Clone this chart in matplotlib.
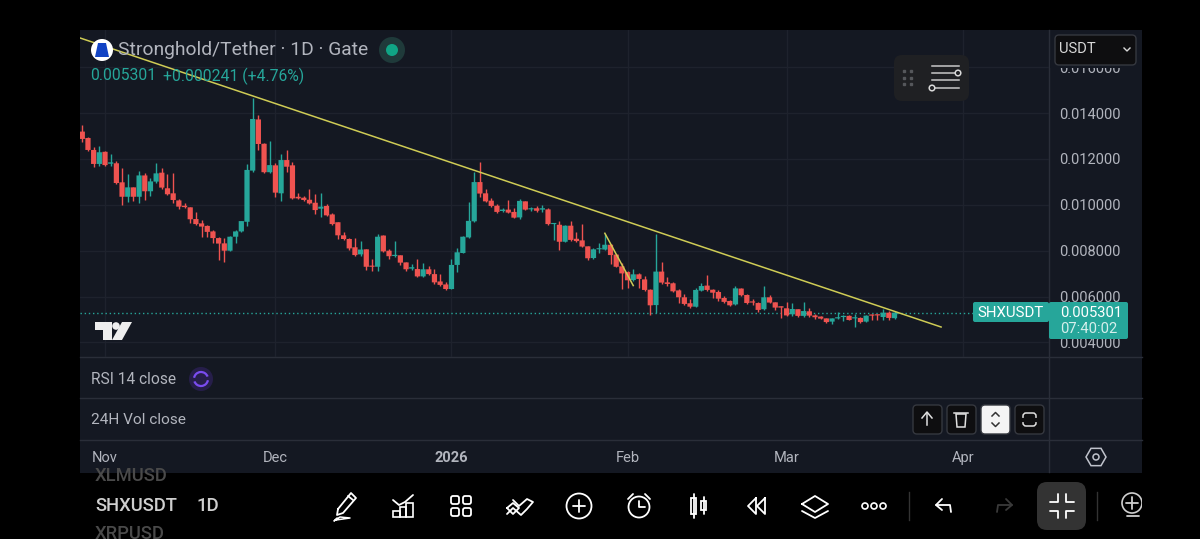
import numpy as np
import matplotlib
matplotlib.use("Agg")
import matplotlib.pyplot as plt
from matplotlib.patches import Rectangle, FancyBboxPatch, Circle, Polygon, Arc, RegularPolygon

plt.rcParams['font.family'] = ['Roboto', 'DejaVu Sans']

# daily candles, prices in thousandths of USDT, first candle is 28 Oct
opens = [13.19, 12.91, 12.39, 11.78, 12.31, 11.79, 11.81, 10.98, 10.35, 10.76, 10.35, 11.28, 10.59, 11.01, 11.40, 10.72,
         10.50, 10.19, 9.96, 9.89, 9.38, 9.19, 9.08, 8.84, 8.55, 8.32, 8.00, 8.61, 8.84, 9.26, 11.49, 13.72,
         12.66, 11.42, 11.72, 10.50, 11.95, 11.72, 10.35, 10.31, 10.22, 10.09, 9.83, 9.95, 9.58, 9.24, 8.67, 8.51,
         8.15, 7.84, 8.06, 7.33, 7.30, 8.66, 8.00, 7.77, 7.80, 7.49, 7.22, 7.20, 6.88, 7.19, 6.98, 6.66,
         6.53, 6.33, 7.38, 7.90, 8.58, 9.28, 10.99, 10.50, 10.18, 9.96, 9.73, 9.79, 9.69, 9.45, 10.15, 9.80,
         9.85, 9.79, 9.80, 9.16, 9.13, 8.39, 9.09, 8.52, 8.45, 8.19, 7.68, 8.06, 8.05, 8.26, 7.83, 7.32,
         7.07, 6.72, 6.97, 6.75, 6.30, 5.63, 7.09, 6.62, 6.58, 6.27, 5.97, 5.71, 5.56, 6.26, 6.48, 6.30,
         6.20, 5.94, 5.81, 5.66, 6.35, 6.07, 5.78, 5.72, 5.45, 5.97, 5.75, 5.58, 5.49, 5.23, 5.45, 5.16,
         5.36, 5.18, 5.13, 5.05, 4.91, 5.05, 5.11, 5.16, 5.05, 5.07, 4.91, 5.21, 5.21, 5.11, 5.30, 5.06]
highs = [13.48, 12.94, 12.50, 12.56, 12.34, 12.20, 11.92, 11.59, 11.33, 10.79, 11.49, 11.37, 11.15, 11.84, 11.59, 11.34,
         11.40, 10.24, 10.09, 9.92, 9.70, 9.34, 9.12, 8.90, 8.61, 8.54, 8.64, 8.90, 9.31, 11.78, 14.64, 13.90,
         12.68, 12.79, 11.81, 12.20, 12.39, 11.88, 10.50, 10.38, 10.67, 10.47, 10.53, 10.03, 9.66, 9.27, 8.83, 8.54,
         8.54, 8.44, 8.09, 7.65, 8.73, 8.68, 8.06, 8.41, 7.83, 7.52, 7.42, 7.62, 7.48, 7.33, 7.19, 6.97,
         6.65, 7.62, 8.10, 8.64, 10.14, 11.43, 11.87, 10.67, 10.28, 10.02, 9.85, 10.21, 9.85, 10.27, 10.18, 9.89,
         9.95, 9.99, 9.85, 9.22, 9.31, 9.12, 9.31, 8.83, 9.15, 8.22, 8.10, 8.32, 8.73, 8.29, 7.86, 7.45,
         7.12, 7.20, 7.01, 6.90, 6.35, 8.73, 7.52, 6.84, 6.62, 6.32, 6.11, 5.88, 6.36, 6.58, 6.94, 6.35,
         6.29, 6.03, 5.85, 6.48, 6.38, 6.10, 5.88, 5.78, 6.46, 6.06, 5.78, 5.61, 5.77, 5.71, 5.47, 5.78,
         5.52, 5.23, 5.16, 5.08, 5.08, 5.34, 5.20, 5.20, 5.23, 5.10, 5.21, 5.26, 5.24, 5.46, 5.39, 5.39]
lows = [12.75, 12.36, 11.66, 11.70, 11.70, 11.69, 10.91, 9.99, 10.14, 10.18, 10.09, 10.21, 10.40, 10.94, 10.70, 10.41,
        10.09, 9.80, 9.87, 9.19, 9.12, 8.58, 8.61, 8.35, 7.59, 7.52, 8.00, 8.32, 8.82, 9.08, 11.43, 12.39,
        11.40, 11.40, 10.35, 10.18, 11.44, 10.24, 10.24, 10.18, 10.03, 9.60, 9.45, 9.51, 9.12, 8.50, 8.47, 8.03,
        7.77, 7.77, 7.16, 7.13, 7.13, 7.94, 7.65, 7.74, 7.38, 7.13, 7.16, 6.85, 6.84, 6.94, 6.56, 6.46,
        6.29, 6.32, 7.06, 7.89, 8.55, 9.25, 10.35, 10.12, 9.92, 9.66, 9.67, 9.63, 9.41, 9.40, 9.76, 9.74,
        9.70, 9.70, 9.13, 8.45, 8.03, 8.38, 8.44, 8.38, 8.15, 7.61, 7.65, 7.89, 8.03, 7.42, 7.28, 6.32,
        6.37, 6.69, 6.36, 6.26, 5.20, 5.30, 6.55, 6.46, 6.20, 5.71, 5.65, 5.50, 5.53, 6.23, 6.26, 5.93,
        5.80, 5.74, 5.59, 5.65, 6.03, 5.69, 5.65, 5.33, 5.42, 5.71, 5.40, 5.08, 5.16, 5.16, 5.13, 5.13,
        5.13, 5.04, 5.01, 4.84, 4.81, 5.02, 4.95, 4.97, 4.69, 4.87, 4.89, 4.98, 4.98, 4.98, 4.98, 5.01]
closes = [12.87, 12.39, 11.78, 12.29, 11.73, 11.85, 10.95, 10.35, 10.76, 10.35, 11.28, 10.59, 11.02, 11.37, 10.75, 10.46,
          10.21, 9.92, 9.90, 9.37, 9.16, 9.05, 8.82, 8.55, 8.31, 8.00, 8.61, 8.84, 9.29, 11.52, 13.74, 12.65,
          11.42, 11.73, 10.53, 11.95, 11.66, 10.28, 10.28, 10.21, 10.06, 9.77, 9.92, 9.54, 9.16, 8.67, 8.51, 8.10,
          7.81, 8.05, 7.30, 7.30, 8.61, 7.97, 7.76, 7.81, 7.48, 7.19, 7.28, 6.88, 7.19, 6.98, 6.62, 6.51,
          6.33, 7.38, 7.93, 8.61, 9.30, 10.99, 10.49, 10.15, 9.95, 9.69, 9.79, 9.66, 9.44, 10.17, 9.79, 9.85,
          9.74, 9.85, 9.16, 9.21, 8.39, 9.09, 8.47, 8.42, 8.18, 7.67, 8.06, 8.10, 8.26, 7.81, 7.30, 7.01,
          6.71, 6.97, 6.77, 6.29, 5.62, 7.09, 6.61, 6.55, 6.23, 5.97, 5.68, 5.56, 6.29, 6.46, 6.29, 6.17,
          5.91, 5.77, 5.62, 6.36, 6.06, 5.72, 5.74, 5.42, 5.97, 5.74, 5.52, 5.52, 5.18, 5.46, 5.16, 5.37,
          5.17, 5.10, 5.04, 4.89, 5.05, 5.10, 5.16, 4.98, 5.10, 4.89, 5.17, 5.17, 5.18, 5.30, 5.07, 5.30]

# day numbers counted from the first candle
month_days = [4, 34, 65, 96, 124, 155]
month_labels = ['Nov', 'Dec', '2026', 'Feb', 'Mar', 'Apr']
price_ticks = [4, 6, 8, 10, 12, 14, 16]
price_labels = ['0.004000', '0.006000', '0.008000', '0.010000', '0.012000', '0.014000', '0.016000']
last_price = 5.301

# trend lines: (day, price) at both ends
long_trend_days = [-0.4, 151.2]
long_trend_prices = [17.27, 4.675]
short_trend_days = [92.0, 97.0]
short_trend_prices = [8.76, 6.48]

PANEL = '#141822'
GRID = '#1e222d'
SEP = '#2a2e39'
GREEN = '#26a69a'
RED = '#ef5350'
TEXT = '#b2b5be'
YELLOW = '#cfcc55'

W, H = 1200, 539
fig = plt.figure(figsize=(12, 5.39), dpi=100, facecolor='black')


def px_axes(z):
    a = fig.add_axes([0, 0, 1, 1], zorder=z)
    a.set_xlim(0, W)
    a.set_ylim(H, 0)
    a.axis('off')
    a.patch.set_alpha(0)
    return a


back = px_axes(0)
back.add_patch(Rectangle((0, 30), 1142, 442.5, fc=PANEL, ec='none'))
back.add_patch(Rectangle((0, 0), 80, H, fc='black', ec='none'))
for yy in [357, 398, 440]:
    back.plot([80, 1142], [yy, yy], color=SEP, lw=1)
back.plot([1049, 1049], [30, 472], color=SEP, lw=1)

# main price pane
ax = fig.add_axes([80 / W, 1 - 357 / H, 969 / W, 327 / H], zorder=1)
ax.patch.set_alpha(0)
ax.set_xlim(-0.405, 170.2)
ax.set_ylim(3.368, 17.617)
ax.yaxis.tick_right()
ax.set_xticks(month_days, month_labels)
ax.set_yticks(price_ticks, price_labels)
ax.tick_params(axis='y', length=0, pad=7.4, labelsize=10.5, labelcolor=TEXT)
ax.tick_params(axis='x', length=0, pad=67.5, labelsize=10.5, labelcolor=TEXT)
ax.get_xticklabels()[2].set_fontweight('bold')
ax.grid(True, color=GRID, lw=1)
ax.set_axisbelow(True)
for s in ax.spines.values():
    s.set_visible(False)

days = np.arange(len(opens))
op = np.array(opens)
cl = np.array(closes)
colors = [GREEN if c >= o else RED for o, c in zip(op, cl)]
ax.vlines(days, lows, highs, colors=colors, lw=1, zorder=3)
ax.bar(days, np.maximum(np.abs(cl - op), 0.05), bottom=np.minimum(op, cl), width=0.92, color=colors, lw=0, zorder=4, snap=False)
ax.axhline(last_price, color=GREEN, lw=1, ls=(0, (1, 2)), zorder=2)
ax.plot(long_trend_days, long_trend_prices, color=YELLOW, lw=1.1, zorder=5)
ax.plot(short_trend_days, short_trend_prices, color=YELLOW, lw=1.1, zorder=5)

top = px_axes(2)

# header
top.add_patch(Circle((102, 50), 11, fc='white', ec='none'))
top.add_patch(Polygon([[98, 43], [106, 43], [109, 57], [95, 57]], fc='#1243c4', ec='none'))
top.text(118, 50, 'Stronghold/Tether · 1D · Gate', color=TEXT, fontsize=13.9, va='center')
top.add_patch(Circle((392, 50), 13, fc='#1f3a3a', ec='none'))
top.add_patch(Circle((392, 50), 6, fc='#10a585', ec='none'))
top.text(90, 76, '0.005301', color=GREEN, fontsize=11.3, va='center')
top.text(163, 76, '+0.000241 (+4.76%)', color=GREEN, fontsize=11.3, va='center')

# drag widget
top.add_patch(FancyBboxPatch((894, 55), 75, 46, boxstyle='round,pad=0,rounding_size=8', fc='#1f2023', ec='none'))
for xx in [904, 911]:
    for yy in [71, 78, 84]:
        top.plot(xx, yy, 's', color='#55575b', ms=1.5)
for yy, x0, x1 in [(66, 932, 959), (73, 932, 955), (80, 932, 959), (88, 935, 959)]:
    top.plot([x0, x1], [yy, yy], color='#c8c8c8', lw=1.1)
top.add_patch(Circle((958, 73), 2.8, fc='#1f2023', ec='#d8d8d8', lw=1.1, zorder=5))
top.add_patch(Circle((932, 88), 2.8, fc='#1f2023', ec='#d8d8d8', lw=1.1, zorder=5))

# currency box covers the top of the 0.016 label
top.add_patch(Rectangle((1050, 60), 90, 8, fc=PANEL, ec='none'))
top.add_patch(FancyBboxPatch((1055, 35), 81, 30, boxstyle='round,pad=0,rounding_size=4', fc='#0e0e10', ec='#35383f', lw=1))
top.text(1059, 49, 'USDT', color='#d8d8d8', fontsize=10.6, va='center')
top.plot([1124, 1127, 1130], [48, 51, 48], color='#d8d8d8', lw=1)

# last price labels
top.add_patch(FancyBboxPatch((973, 302), 76, 20, boxstyle='round,pad=0,rounding_size=2', fc='#26a69a', ec='none'))
top.add_patch(FancyBboxPatch((1049, 302), 79, 37, boxstyle='round,pad=0,rounding_size=2', fc='#26a69a', ec='none'))
top.text(1011, 313, 'SHXUSDT', color='white', fontsize=10.8, ha='center', va='center')
top.text(1060, 313, '0.005301', color='white', fontsize=10.6, va='center')
top.text(1060, 329, '07:40:02', color='#d5efec', fontsize=10.6, va='center')

# TV logo
top.add_patch(Polygon([[95, 322], [112, 322], [112, 340], [103, 340], [103, 330], [95, 330]], fc='#eeeeee', ec='none'))
top.add_patch(Circle((116, 326), 3.8, fc='#eeeeee', ec='none'))
top.add_patch(Polygon([[122, 322], [132, 322], [122, 340], [112, 340]], fc='#eeeeee', ec='none'))

# indicator rows
top.text(91, 379, 'RSI 14 close', color=TEXT, fontsize=11.2, va='center')
top.add_patch(Circle((201, 379), 12, fc='#261e4a', ec='none'))
top.add_patch(Arc((201, 379), 14, 14, theta1=190, theta2=340, color='#7a4cf0', lw=1.6))
top.add_patch(Arc((201, 379), 14, 14, theta1=10, theta2=160, color='#7a4cf0', lw=1.6))
top.text(91, 420, '24H Vol close', color=TEXT, fontsize=11.1, va='center')

# pane buttons
for x0, fc in [(913, '#0e0e10'), (947, '#0e0e10'), (981, '#f4f4f4'), (1015, '#0e0e10')]:
    top.add_patch(FancyBboxPatch((x0, 405), 29, 29, boxstyle='round,pad=0,rounding_size=4', fc=fc, ec='#35383f', lw=1))
top.plot([927, 927], [425, 413], color='#e0e0e0', lw=1.1)
top.plot([922, 927, 932], [418, 412, 418], color='#e0e0e0', lw=1.1)
top.add_patch(Polygon([[956, 414], [966, 414], [965, 427], [957, 427]], fc='none', ec='#e0e0e0', lw=1.1))
top.plot([954, 968], [413, 413], color='#e0e0e0', lw=1.1)
top.plot([992, 995.5, 999], [416, 412.5, 416], color='#333333', lw=1.1)
top.plot([992, 995.5, 999], [423, 426.5, 423], color='#333333', lw=1.1)
top.add_patch(FancyBboxPatch((1023, 413), 13, 13, boxstyle='round,pad=0,rounding_size=3', fc='none', ec='#e0e0e0', lw=1.1))
top.plot([1021, 1038], [419.5, 419.5], color='#0e0e10', lw=3)
top.add_patch(RegularPolygon((1096, 457), 6, radius=10, orientation=np.pi / 2, fc='none', ec='#c0c3cc', lw=1.1))
top.add_patch(Circle((1096, 457), 3, fc='none', ec='#c0c3cc', lw=1.1))

# bottom toolbar
for label, yy, col in [('XLMUSD', 476, '#4a4a4a'), ('SHXUSDT', 506, '#cfcfcf'), ('XRPUSD', 534, '#4a4a4a')]:
    t = top.text(95, yy, label, color=col, fontsize=13.2, va='center', fontweight='medium')
    t.set_clip_path(Rectangle((90, 472.5), 86, H - 472.5, transform=top.transData))
top.text(197, 506, '1D', color='#cfcfcf', fontsize=13.4, va='center', fontweight='medium')


def icon(xs, ys, col='white', lw=1.3):
    top.plot(xs, ys, color=col, lw=lw, solid_capstyle='round', solid_joinstyle='round')


# pencil
icon([338, 351, 356, 343, 337, 338], [509, 493, 498, 513, 515, 509])
icon([348, 353], [496, 500])
icon([337, 334, 340, 350, 336], [518, 521, 517, 518, 520], lw=1.1)
# chart
icon([393, 399, 405, 413], [500, 505, 502, 495])
top.add_patch(Rectangle((393, 511), 7, 6, fc='none', ec='white', lw=1.2))
top.add_patch(Rectangle((400, 507), 6, 10, fc='none', ec='white', lw=1.2))
top.add_patch(Rectangle((406, 503), 7, 14, fc='none', ec='white', lw=1.2))
# grid of squares
for xx in [451, 463]:
    for yy in [496, 508]:
        top.add_patch(FancyBboxPatch((xx, yy), 8, 8, boxstyle='round,pad=0,rounding_size=2', fc='none', ec='white', lw=1.3))
# strategy arrows
icon([507, 513, 519, 513, 507], [508, 503, 508, 514, 508])
icon([507, 513, 521, 527, 533, 527, 519, 513], [514, 508, 515, 509, 502, 499, 506, 500])
# plus
top.add_patch(Circle((579, 506), 12.5, fc='none', ec='white', lw=1.3))
icon([573, 585], [506, 506])
icon([579, 579], [500, 512])
# alarm
top.add_patch(Circle((639, 507), 10.5, fc='none', ec='white', lw=1.3))
icon([639, 639, 645], [501, 507, 507])
icon([628, 633], [499, 494])
icon([645, 650], [494, 499])
# candles
top.add_patch(Rectangle((691, 498), 5, 16, fc='none', ec='white', lw=1.3))
top.add_patch(Rectangle((701, 501), 5, 9, fc='none', ec='white', lw=1.3))
icon([693.5, 693.5], [494, 518])
icon([703.5, 703.5], [497, 514])
# replay
icon([756, 748, 756, 756], [498, 506, 514, 498])
icon([765, 757, 765, 765], [498, 506, 514, 498])
# layers
icon([802, 815, 828, 815, 802], [504, 496, 504, 512, 504])
icon([802, 815, 828], [511, 518, 511])
# more
for xx in [865, 874, 883]:
    top.add_patch(Circle((xx, 506), 3, fc='none', ec='white', lw=1.2))
top.plot([909, 909], [492, 520], color='#333333', lw=1)
# undo and redo
icon([936, 950, 951], [505, 505, 512])
icon([942, 936, 942], [499, 505, 510])
icon([1012, 998, 997], [505, 505, 512], col='#3a3a3a')
icon([1006, 1012, 1006], [499, 505, 510], col='#3a3a3a')
# fullscreen
top.add_patch(FancyBboxPatch((1037, 482), 49, 48, boxstyle='round,pad=0,rounding_size=10', fc='#333333', ec='none'))
icon([1050, 1058, 1058], [502, 502, 494])
icon([1074, 1066, 1066], [502, 502, 494])
icon([1050, 1058, 1058], [511, 511, 518])
icon([1074, 1066, 1066], [511, 511, 518])
top.plot([1097, 1097], [492, 520], color='#333333', lw=1)
# light bulb, cut off at the panel edge
top.add_patch(Circle((1132, 503), 10, fc='none', ec='#cfcfcf', lw=1.2))
icon([1126, 1138], [503, 503], col='#cfcfcf')
icon([1132, 1132], [497, 509], col='#cfcfcf')
icon([1127, 1139], [516, 516], col='#cfcfcf')
top.add_patch(Rectangle((1142, 472), 58, 67, fc='black', ec='none', zorder=8))

fig.savefig('out.png', dpi=100, facecolor='black')
